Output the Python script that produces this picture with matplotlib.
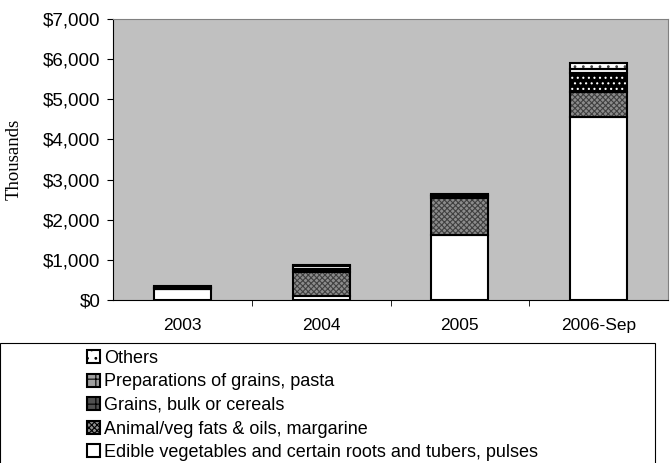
"""
식품 수입 누적 막대 차트 재현 (Excel 스타일)
"""
import matplotlib
matplotlib.use("Agg")
import matplotlib.pyplot as plt
import matplotlib.patches as patches
from matplotlib.ticker import FixedLocator

# 데이터 (단위: 천 달러)
categories = ['2003', '2004', '2005', '2006-Sep']
edible = [270, 100, 1620, 4570]
fats = [0, 600, 920, 600]
grains = [30, 60, 60, 480]
preparations = [30, 80, 20, 100]
others = [20, 40, 30, 150]

series_labels = [
    'Edible vegetables and certain roots and tubers, pulses',
    'Animal/veg fats & oils, margarine',
    'Grains, bulk or cereals',
    'Preparations of grains, pasta',
    'Others',
]
y_ticks = [0, 1000, 2000, 3000, 4000, 5000, 6000, 7000]
y_tick_labels = ['$0', '$1,000', '$2,000', '$3,000', '$4,000', '$5,000', '$6,000', '$7,000']

# 스타일: (면 색, 해치, 해치 색)
styles = [
    ('white', '', 'black'),
    ('#8c8c8c', 'xxxxxx', '#404040'),
    ('black', '...', 'white'),
    ('white', '---', 'black'),
    ('white', '..', '#444444'),
]
# 범례 아이콘 스타일 (면 색, 해치)
legend_styles = [
    ('white', ''),
    ('#909090', 'xxxxxx'),
    ('#505050', '++'),
    ('#a0a0a0', '++'),
    ('white', '..'),
]

plt.rcParams['font.family'] = ['Liberation Sans', 'DejaVu Sans']
plt.rcParams['hatch.linewidth'] = 0.8

fig = plt.figure(figsize=(6.7, 4.63), dpi=100)
ax = fig.add_axes([113 / 670, 1 - 300 / 463, 555 / 670, 281 / 463])
ax.set_facecolor('#c0c0c0')

x = list(range(len(categories)))
width = 0.41
bottom = [0] * len(categories)
all_series = [edible, fats, grains, preparations, others]

for values, (fc, hatch, hc) in zip(all_series, styles):
    # 해치 채우기 (해치 색 = edgecolor)
    ax.bar(x, values, width, bottom=bottom, color=fc, hatch=hatch,
           edgecolor=hc, linewidth=0, zorder=2)
    # 테두리
    ax.bar(x, values, width, bottom=bottom, facecolor='none',
           edgecolor='black', linewidth=1.5, zorder=3)
    bottom = [b + v for b, v in zip(bottom, values)]

ax.set_xlim(-0.5, len(categories) - 0.5)
ax.set_ylim(0, 7000)
ax.set_yticks(y_ticks)
ax.set_yticklabels(y_tick_labels, fontsize=13.5)
ax.set_xticks(x)
ax.set_xticklabels(categories, fontsize=12.5)
ax.xaxis.set_minor_locator(FixedLocator([0.5, 1.5, 2.5]))
ax.tick_params(axis='x', which='major', length=0, pad=13)
ax.tick_params(axis='x', which='minor', length=4, direction='out')
ax.tick_params(axis='y', length=4, direction='out', pad=5)

for side in ['top', 'right']:
    ax.spines[side].set_color('#808080')
for side in ['left', 'bottom']:
    ax.spines[side].set_color('black')

ax.set_ylabel('Thousands', fontsize=13.5, family=['Liberation Serif', 'DejaVu Serif'])
ax.yaxis.set_label_coords(-0.163, 0.5)

# 범례 (아래쪽 박스)
handles = []
for (fc, hatch), label in zip(legend_styles, series_labels):
    handles.append(patches.Patch(facecolor=fc, hatch=hatch, edgecolor='black',
                                 linewidth=1.5, label=label))
leg = fig.legend(handles[::-1], series_labels[::-1], loc='upper left',
                 bbox_to_anchor=(87 / 670, 1 - 350 / 463), frameon=False,
                 fontsize=13, handlelength=0.7, handleheight=0.7,
                 handletextpad=0.25, labelspacing=0.36, borderaxespad=0,
                 borderpad=0)

frame = patches.Rectangle((0, -0.02), 655 / 670, 0.02 + 1 - 343 / 463,
                          transform=fig.transFigure, facecolor='none',
                          edgecolor='black', linewidth=0.8)
fig.patches.append(frame)

fig.savefig('out.png', dpi=100)
plt.close(fig)
